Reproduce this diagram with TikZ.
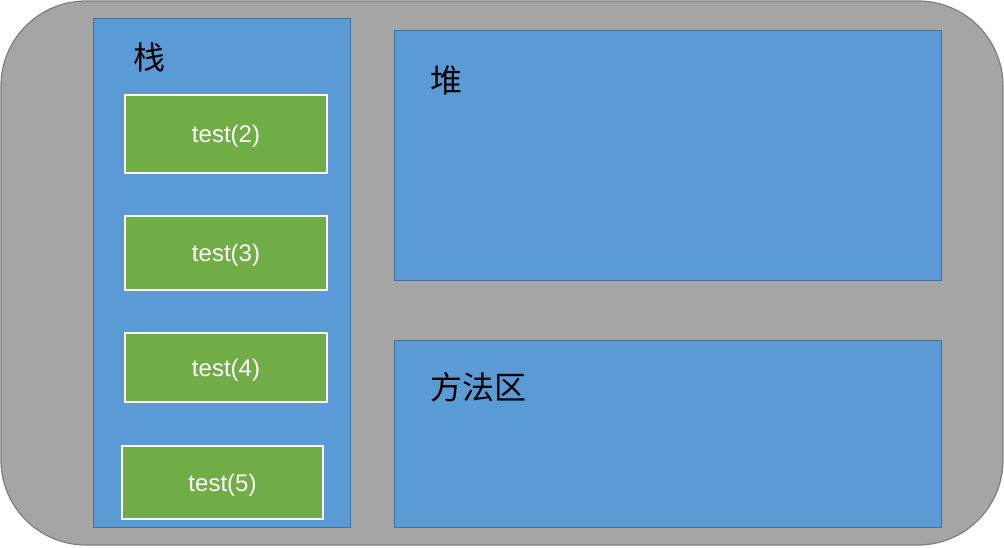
\documentclass[tikz,border=0pt]{standalone}
\usepackage{fontspec}
\setmainfont{Liberation Sans}
\newfontfamily\cjk{Noto Sans CJK SC}
\definecolor{areablue}{HTML}{5B9BD5}
\definecolor{areaborder}{HTML}{41719C}
\definecolor{framegreen}{HTML}{70AD47}
\definecolor{outergray}{HTML}{A5A5A5}
\definecolor{outerborder}{HTML}{7F7F7F}
\begin{document}
\begin{tikzpicture}[x=1pt,y=-1pt,
  outer/.style={draw=outerborder,fill=outergray,line width=1.2pt,rounded corners=85pt},
  area/.style={draw=areaborder,fill=areablue,line width=0.8pt,anchor=north west,inner sep=0pt},
  frame/.style={draw=white,fill=framegreen,line width=2pt,text=white,anchor=north west,inner sep=0pt,text height=17pt,text depth=0pt,font=\fontsize{24}{28}\selectfont},
  title/.style={font=\cjk\fontsize{32}{36}\selectfont,text=black,inner sep=0pt}]
\useasboundingbox (0,0) rectangle (1004,547);
\fill[white] (0,0) rectangle (1004,547);
\draw[outer] (1,1) rectangle (1003,545);
\node[area,minimum width=257pt,minimum height=509pt] (stack) at (93,18) {};
\node[area,minimum width=547pt,minimum height=250pt] (heap) at (394,30) {};
\node[area,minimum width=547pt,minimum height=187pt] (method) at (394,340) {};
\node[title] (stackt) at (149,57) {栈};
\node[title] (heapt) at (446,80) {堆};
\node[title] (methodt) at (478,387) {方法区};
\node[frame,minimum width=202pt,minimum height=78pt] (t2) at (124,94) {test(2)};
\node[frame,minimum width=202pt,minimum height=74pt] (t3) at (124,215) {test(3)};
\node[frame,minimum width=202pt,minimum height=69pt] (t4) at (124,332) {test(4)};
\node[frame,minimum width=201pt,minimum height=73pt] (t5) at (121,445) {test(5)};
\end{tikzpicture}
\end{document}
